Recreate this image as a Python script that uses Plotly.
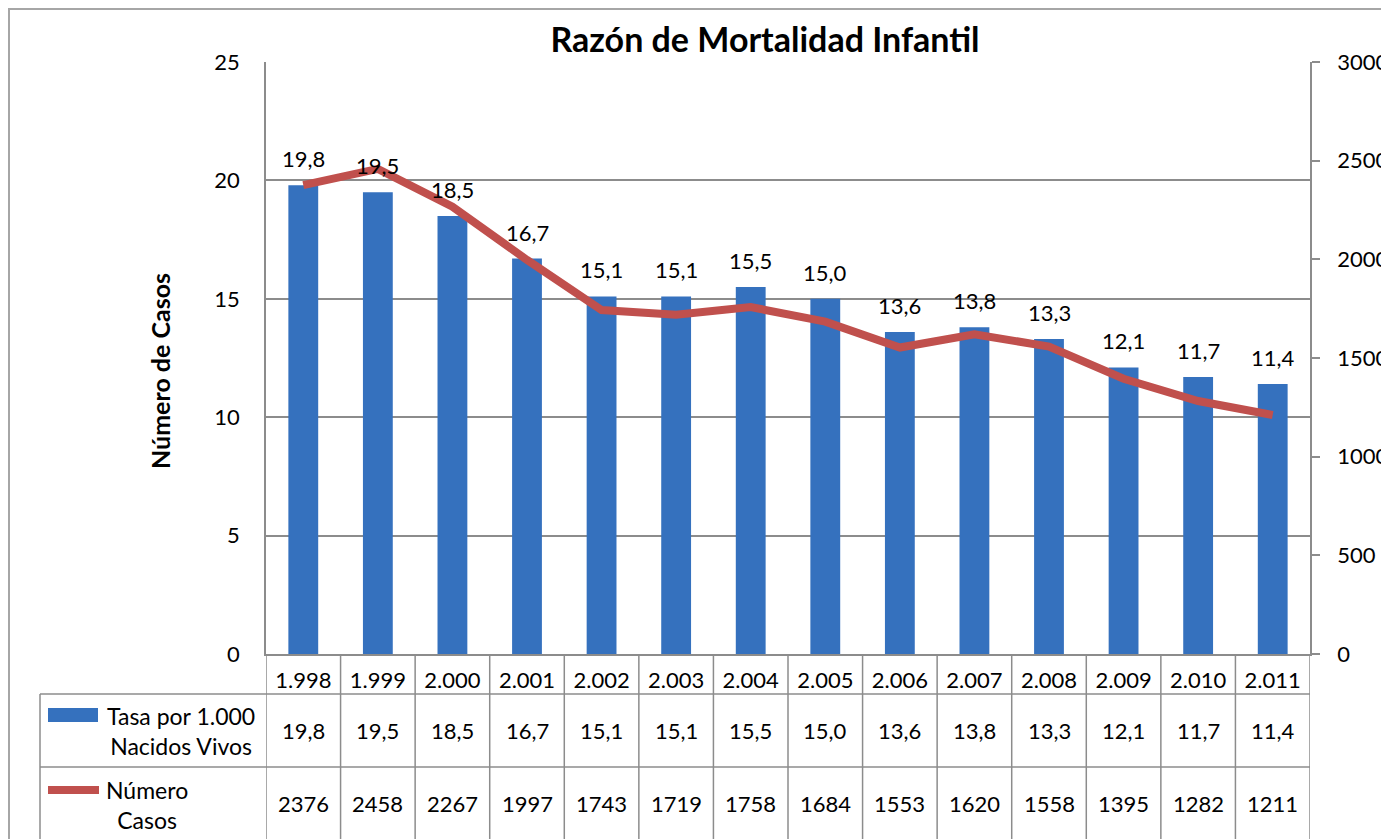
import plotly.graph_objects as go

years = ["1.998", "1.999", "2.000", "2.001", "2.002", "2.003", "2.004",
         "2.005", "2.006", "2.007", "2.008", "2.009", "2.010", "2.011"]
tasa = [19.8, 19.5, 18.5, 16.7, 15.1, 15.1, 15.5, 15.0, 13.6, 13.8, 13.3, 12.1, 11.7, 11.4]
casos = [2376, 2458, 2267, 1997, 1743, 1719, 1758, 1684, 1553, 1620, 1558, 1395, 1282, 1211]

OFF = 8  # page body margin
W, H = 1389 - OFF, 839 - OFF
L, R, T, B = 266, 1310, 62, 654  # in reference page pixels
PW, PH = R - L, B - T


def px_x(p):
    return (p - L) / PW


def px_y(p):
    return (B - p) / PH


FONT = "Lato, 'Open Sans', sans-serif"
GRID = "#8c8c8c"
NUM = 22
TXT = 23
idx = list(range(len(years)))


def fmt(v):
    return f"{v:.1f}".replace(".", ",")


fig = go.Figure()
fig.add_trace(go.Bar(x=idx, y=tasa, width=0.4, marker=dict(color="#3571be", line=dict(width=0)),
                     name="Tasa por 1.000 Nacidos Vivos", showlegend=False, yaxis="y"))
fig.add_trace(go.Scatter(x=idx, y=casos, mode="lines", line=dict(color="#c0504d", width=8),
                         name="Número Casos", showlegend=False, yaxis="y2"))

ann = []
for i, v in zip(idx, tasa):
    ann.append(dict(x=i, y=v, xref="x", yref="y", text=fmt(v), showarrow=False,
                    xanchor="center", yanchor="bottom", yshift=11,
                    font=dict(size=NUM, color="black", family=FONT)))

row2_y = px_y((694 + 767) / 2)
row3_y = px_y((767 + 839) / 2)
for i, v, c in zip(idx, tasa, casos):
    ann.append(dict(x=i, y=row2_y, xref="x", yref="paper", text=fmt(v), showarrow=False,
                    xanchor="center", yanchor="middle", font=dict(size=NUM, color="black", family=FONT)))
    ann.append(dict(x=i, y=row3_y, xref="x", yref="paper", text=str(c), showarrow=False,
                    xanchor="center", yanchor="middle", font=dict(size=NUM, color="black", family=FONT)))

ann.append(dict(x=px_x(181), y=row2_y, xref="paper", yref="paper",
                text="Tasa por 1.000<br>Nacidos Vivos", showarrow=False, align="center",
                xanchor="center", yanchor="middle", font=dict(size=TXT, color="black", family=FONT)))
ann.append(dict(x=px_x(147), y=px_y(805), xref="paper", yref="paper",
                text="Número<br>Casos", showarrow=False, align="center",
                xanchor="center", yanchor="middle", font=dict(size=TXT, color="black", family=FONT)))

ann.append(dict(x=px_x(160), y=px_y(371), xref="paper", yref="paper", text="<b>Número de Casos</b>",
                textangle=-90, showarrow=False, xanchor="center", yanchor="middle",
                font=dict(size=25, color="black", family=FONT)))

shapes = []
shapes.append(dict(type="rect", xref="paper", yref="paper", x0=px_x(9), x1=px_x(1420),
                   y0=px_y(870), y1=px_y(9), line=dict(color="#a6a6a6", width=2)))
for py in (694, 767):
    shapes.append(dict(type="line", xref="paper", yref="paper", x0=px_x(40), x1=1,
                       y0=px_y(py), y1=px_y(py), line=dict(color=GRID, width=1.5)))
for k in range(len(years) + 1):
    shapes.append(dict(type="line", xref="x", yref="paper", x0=k - 0.5, x1=k - 0.5,
                       y0=px_y(860), y1=0, line=dict(color=GRID, width=1.5)))
shapes.append(dict(type="line", xref="paper", yref="paper", x0=px_x(40), x1=px_x(40),
                   y0=px_y(860), y1=px_y(694), line=dict(color=GRID, width=1.5)))
shapes.append(dict(type="rect", xref="paper", yref="paper", x0=px_x(48), x1=px_x(98),
                   y0=px_y(722), y1=px_y(708), fillcolor="#3571be", line=dict(width=0)))
shapes.append(dict(type="line", xref="paper", yref="paper", x0=px_x(48), x1=px_x(99),
                   y0=px_y(790), y1=px_y(790), line=dict(color="#c0504d", width=8)))

fig.update_layout(
    width=W, height=H, autosize=False,
    margin=dict(l=L - OFF, r=W - (R - OFF), t=T - OFF, b=H - (B - OFF), pad=0, autoexpand=False),
    paper_bgcolor="white", plot_bgcolor="white",
    title=dict(text="<b>Razón de Mortalidad Infantil</b>", x=(765 - OFF) / W, xanchor="center",
               y=1 - (40 - OFF) / H, yanchor="middle", xref="container", yref="container",
               font=dict(size=34, color="black", family=FONT)),
    font=dict(family=FONT, size=NUM, color="black"),
    xaxis=dict(range=[-0.5, len(years) - 0.5], tickmode="array", tickvals=idx, ticktext=years,
               showgrid=False, showline=True, linecolor=GRID, linewidth=1.5, ticks="",
               ticklabelstandoff=6, tickfont=dict(size=NUM, family=FONT), zeroline=False,
               automargin=False),
    yaxis=dict(range=[0, 25], tickvals=[0, 5, 10, 15, 20, 25], showgrid=True, gridcolor=GRID,
               gridwidth=1.5, showline=True, linecolor=GRID, linewidth=1.5, ticks="",
               ticklabelstandoff=20, tickfont=dict(size=NUM, family=FONT), zeroline=False,
               automargin=False),
    yaxis2=dict(range=[0, 3000], tickvals=[0, 500, 1000, 1500, 2000, 2500, 3000], overlaying="y",
                side="right", showgrid=False, showline=True, linecolor=GRID, linewidth=1.5,
                ticks="outside", ticklen=8, tickcolor=GRID, tickwidth=1.5, ticklabelstandoff=13,
                tickfont=dict(size=NUM, family=FONT), zeroline=False, automargin=False),
    annotations=ann, shapes=shapes, bargap=0.6,
)

fig.write_html("out.html")
